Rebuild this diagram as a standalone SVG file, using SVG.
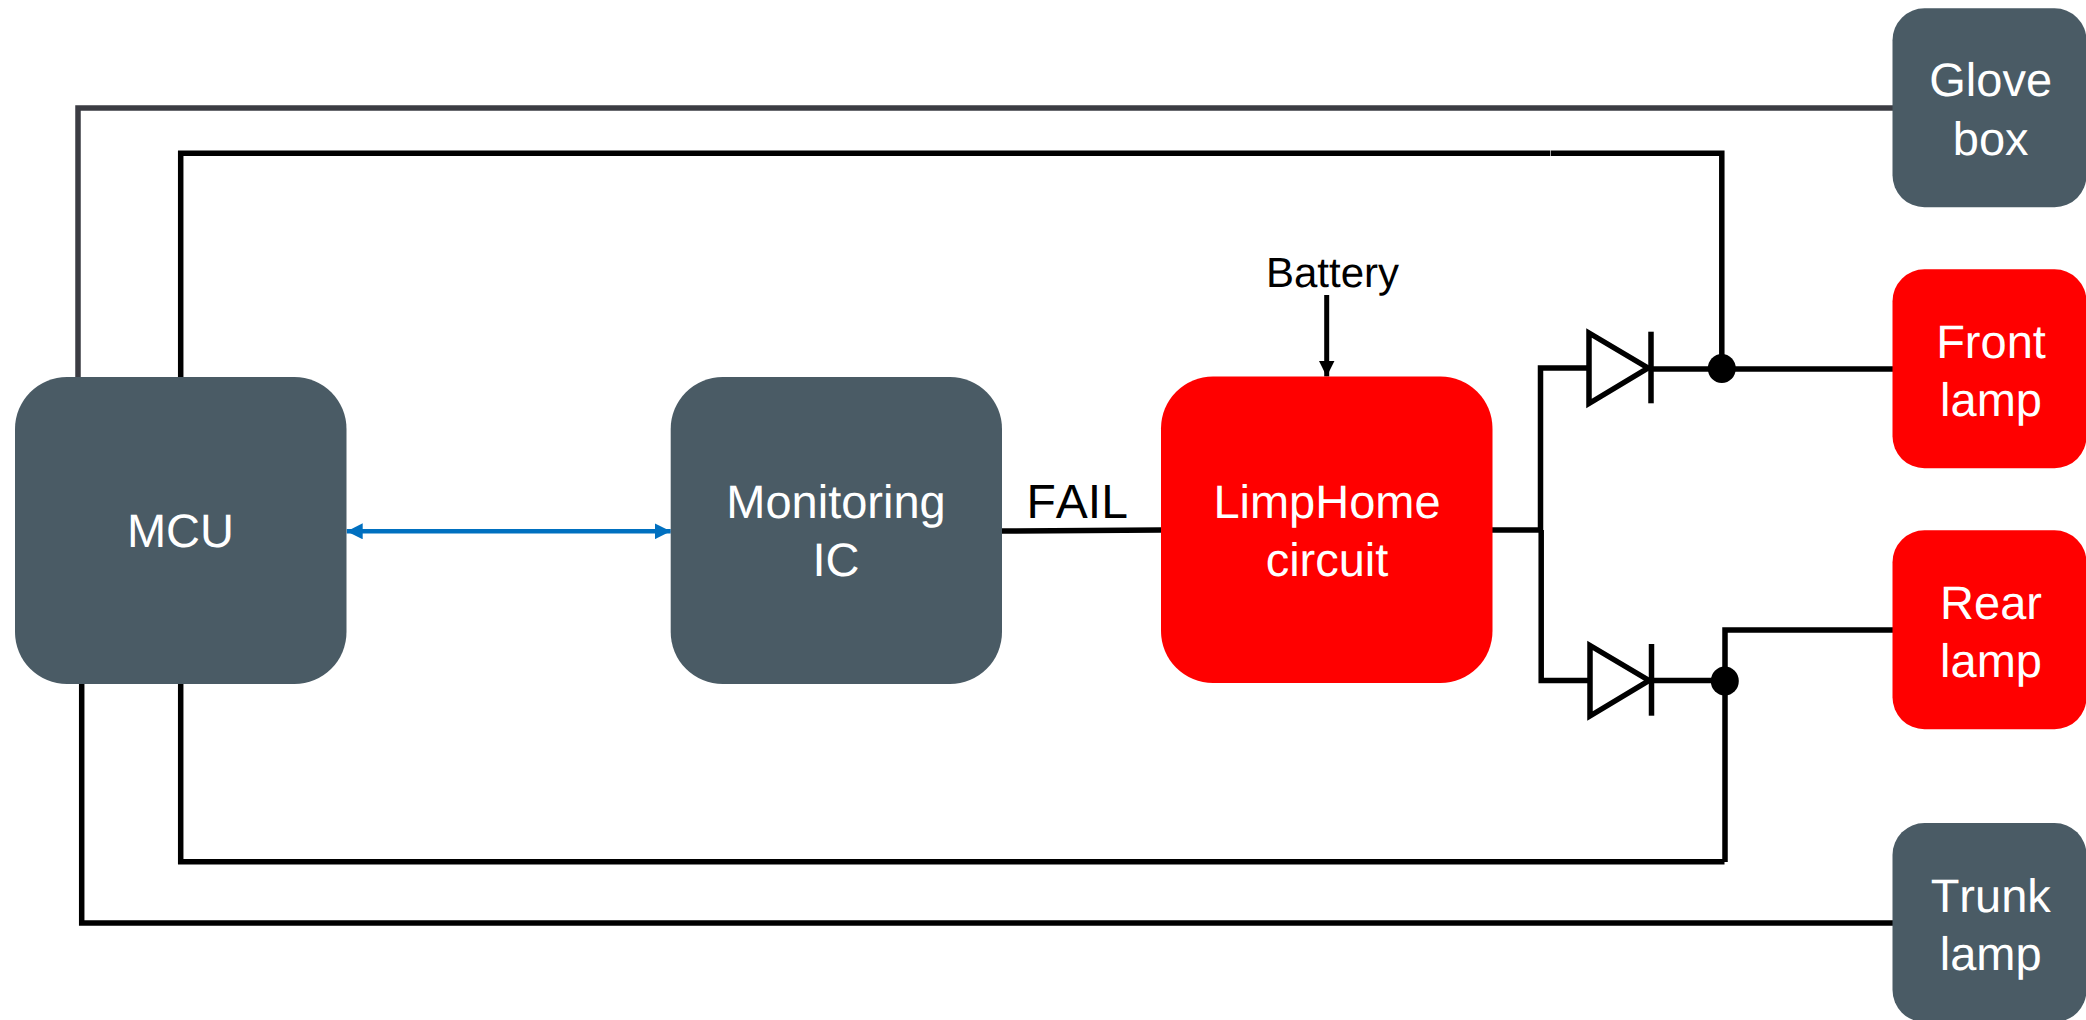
<svg xmlns="http://www.w3.org/2000/svg" width="2086" height="1020" viewBox="0 0 2086 1020">
<style>
.gray{fill:#4a5b65}
.red{fill:#ff0000}
text{font-family:"Liberation Sans",Arial,sans-serif;font-kerning:none;text-rendering:geometricPrecision}
.t{font-size:47px;fill:#fff;text-anchor:middle}
.w{fill:none;stroke:#000;stroke-width:5.5;stroke-linejoin:miter}
.d{fill:#fff;stroke:#000;stroke-width:5.5;stroke-linejoin:miter}
.dot{fill:#000}
</style>
<defs>
<marker id="blueEnd" markerUnits="userSpaceOnUse" markerWidth="16" markerHeight="16" refX="16" refY="8" orient="auto"><path d="M0 0L16 8L0 16Z" fill="#0070c0"/></marker>
<marker id="blueStart" markerUnits="userSpaceOnUse" markerWidth="16" markerHeight="16" refX="0" refY="8" orient="auto"><path d="M16 0L0 8L16 16Z" fill="#0070c0"/></marker>
<marker id="blackEnd" markerUnits="userSpaceOnUse" markerWidth="16" markerHeight="16" refX="16" refY="8" orient="auto"><path d="M0 0L16 8L0 16Z" fill="#000"/></marker>
</defs>
<rect width="2086" height="1020" fill="#fff"/>
<g id="connectors">
<path d="M78 378V108H1893" fill="none" stroke="#3b3c43" stroke-width="5.5"/>
<path class="w" d="M180.700 378V153.300H1550.300"/>
<path class="w" d="M1550.900 153.300H1721.800V369"/>
<path class="w" d="M81.700 684V923H1893"/>
<path class="w" d="M180.700 684V861.700H1724.500"/>
<path class="w" d="M1725 862V630H1893"/>
<path d="M346.700 531.300H670.700" fill="none" stroke="#0070c0" stroke-width="4.500" marker-start="url(#blueStart)" marker-end="url(#blueEnd)"/>
<path class="w" d="M1002 531L1161 530"/>
<path d="M1326.700 295V376.500" fill="none" stroke="#000" stroke-width="5" marker-end="url(#blackEnd)"/>
<path class="w" d="M1492 530H1541.500"/>
<path class="w" d="M1589 368H1540.500V530"/>
<path class="w" d="M1590 680.500H1541.200V530"/>
<path class="w" d="M1651 369H1893"/>
<path class="w" d="M1651.500 680.500H1725"/>
<ellipse class="dot" cx="1721.800" cy="368.500" rx="14" ry="14.500"/>
<ellipse class="dot" cx="1724.800" cy="681" rx="14" ry="14.500"/>
</g>
<g id="diode-front"><path class="d" d="M1589 333V403.500L1648 368Z"/><path class="w" d="M1651 331.700V403.300"/></g>
<g id="diode-rear"><path class="d" d="M1590 645.500V716L1649 680.500Z"/><path class="w" d="M1651.500 644V715.700"/></g>
<g id="mcu"><rect class="gray" x="15" y="377" width="331.500" height="307" rx="52"/><text class="t" x="180.500" y="547">MCU</text></g>
<g id="monitoring-ic"><rect class="gray" x="670.700" y="377" width="331.300" height="307" rx="52"/><text class="t" x="836" y="518">Monitoring</text><text class="t" x="836" y="576">IC</text></g>
<g id="limphome-circuit"><rect class="red" x="1161" y="376.500" width="331.500" height="306.500" rx="52"/><text class="t" x="1327" y="518">LimpHome</text><text class="t" x="1327" y="576">circuit</text></g>
<g id="glove-box"><rect class="gray" x="1892.500" y="8.300" width="194" height="199" rx="32"/><text class="t" x="1990.700" y="96">Glove</text><text class="t" x="1990.700" y="154.500">box</text></g>
<g id="front-lamp"><rect class="red" x="1892.500" y="269.300" width="194" height="199" rx="32"/><text class="t" x="1991" y="357.700">Front</text><text class="t" x="1991" y="415.700">lamp</text></g>
<g id="rear-lamp"><rect class="red" x="1892.500" y="530.300" width="194" height="199" rx="32"/><text class="t" x="1991" y="618.700">Rear</text><text class="t" x="1991" y="676.700">lamp</text></g>
<g id="trunk-lamp"><rect class="gray" x="1892.500" y="823" width="194" height="199" rx="32"/><text class="t" x="1990.700" y="911.700">Trunk</text><text class="t" x="1990.700" y="970">lamp</text></g>
<text x="1026.500" y="518.300" font-size="48" fill="#000">FAIL</text>
<text x="1266" y="286.700" font-size="42" fill="#000">Battery</text>
</svg>
